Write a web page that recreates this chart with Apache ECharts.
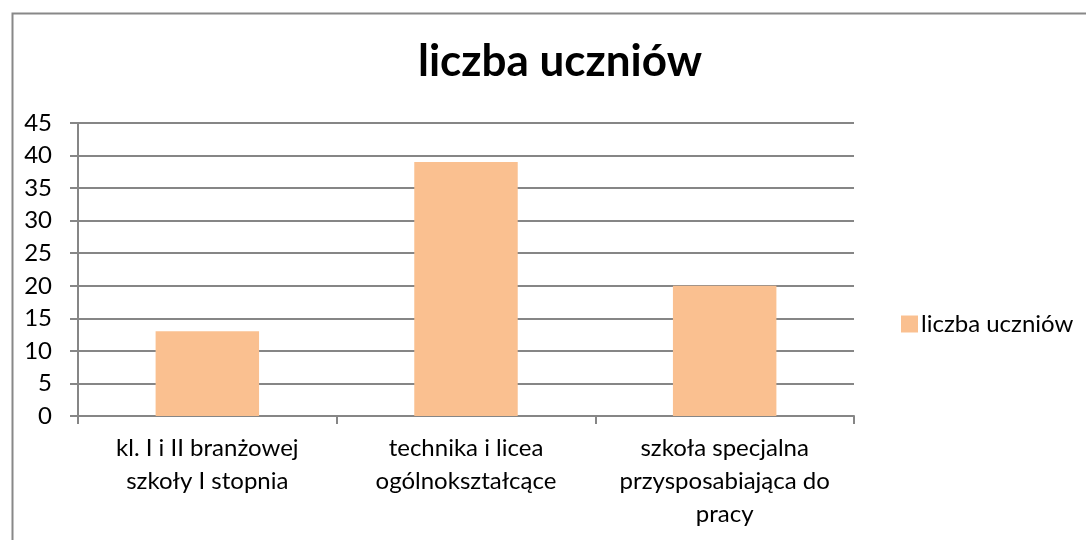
<!DOCTYPE html>
<html>
<head>
<meta charset="utf-8">
<script src="https://cdn.jsdelivr.net/npm/echarts@6/dist/echarts.min.js"></script>
<style>
  html, body { margin: 0; padding: 0; background: #fff; }
  #chart { width: 1086px; height: 540px; }
</style>
</head>
<body>
<div id="chart"></div>
<script>
// dane wykresu
const categories = [
    'kl. I i II branżowej\nszkoły I stopnia',
    'technika i licea\nogólnokształcące',
    'szkoła specjalna\nprzysposabiająca do\npracy'
];
const seriesName = 'liczba uczniów';
const values = [13, 39, 20];
const yTicks = { min: 0, max: 45, interval: 5 };

const FONT = 'Lato, "Open Sans", sans-serif';
const GREY = '#868686';

const chart = echarts.init(document.getElementById('chart'));

const option = {
    backgroundColor: '#fff',
    animation: false,
    textStyle: { fontFamily: FONT },
    title: {
        text: 'liczba uczniów',
        left: 555,
        textAlign: 'center',
        top: 35,
        textStyle: { fontFamily: FONT, fontSize: 44, fontWeight: 'bold', color: '#000' }
    },
    legend: {
        data: [seriesName],
        left: 896,
        top: 307,
        itemWidth: 17,
        itemHeight: 17,
        itemGap: 6,
        icon: 'rect',
        textStyle: { fontFamily: FONT, fontSize: 24, color: '#000', padding: [0, 0, 0, -2] }
    },
    grid: { left: 78, right: 232, top: 123, bottom: 124 },
    xAxis: {
        type: 'category',
        data: categories,
        boundaryGap: true,
        axisLine: { show: true, lineStyle: { color: GREY, width: 2 } },
        axisTick: { show: true, length: 8, lineStyle: { color: GREY, width: 2 } },
        axisLabel: { fontFamily: FONT, fontSize: 24, color: '#000', margin: 16, lineHeight: 33, interval: 0 }
    },
    yAxis: {
        type: 'value',
        min: yTicks.min,
        max: yTicks.max,
        interval: yTicks.interval,
        axisLine: { show: true, lineStyle: { color: GREY, width: 2 } },
        axisTick: { show: true, length: 8, lineStyle: { color: GREY, width: 2 } },
        axisLabel: { fontFamily: FONT, fontSize: 24, color: '#000', margin: 26 },
        splitLine: { show: true, lineStyle: { color: GREY, width: 2 } }
    },
    graphic: [
        {
            type: 'rect',
            left: 10,
            top: 11,
            shape: { width: 1200, height: 700 },
            style: { fill: 'none', stroke: '#888', lineWidth: 2 },
            silent: true,
            z: -1
        }
    ],
    series: [
        {
            name: seriesName,
            type: 'bar',
            data: values,
            barWidth: '40%',
            itemStyle: { color: '#FAC090' }
        }
    ]
};

chart.setOption(option);
</script>
</body>
</html>
